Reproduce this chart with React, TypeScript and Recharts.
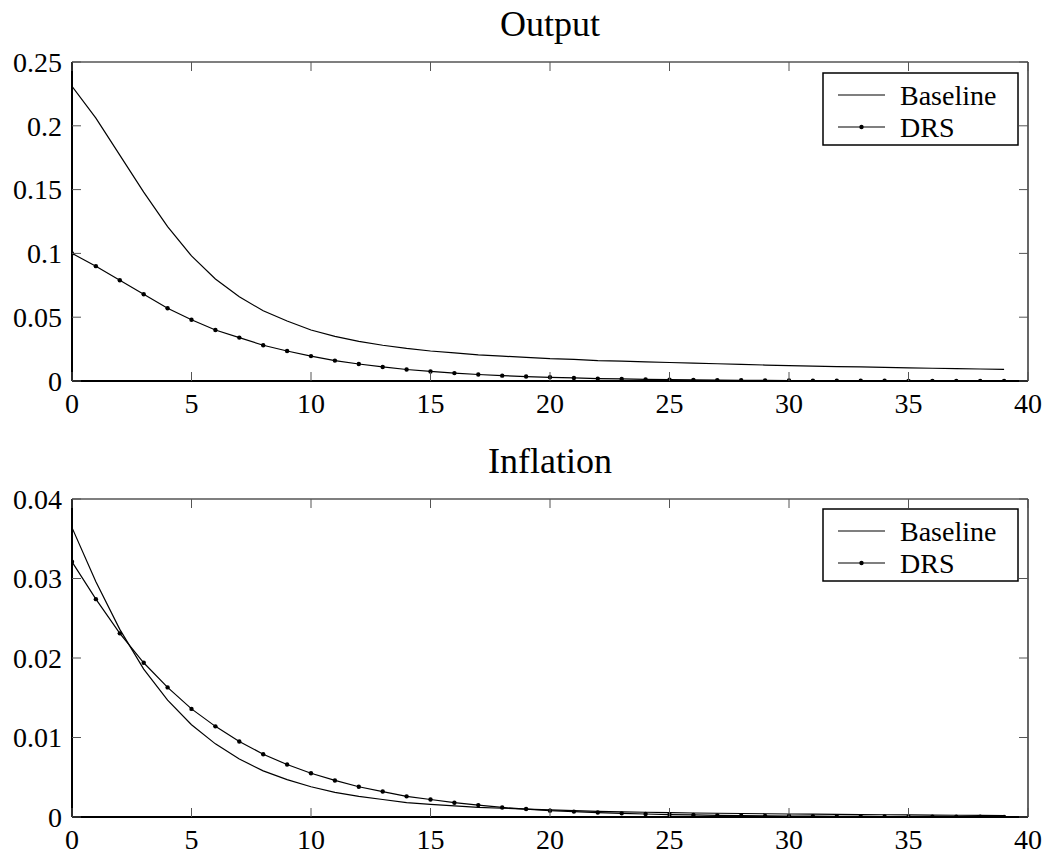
import React from 'react';
import { LineChart, Line, XAxis, YAxis, ReferenceLine } from 'recharts';

const periods = [0, 1, 2, 3, 4, 5, 6, 7, 8, 9, 10, 11, 12, 13, 14, 15, 16, 17, 18, 19, 20, 21, 22, 23, 24, 25, 26, 27, 28, 29, 30, 31, 32, 33, 34, 35, 36, 37, 38, 39];

const outputBaseline = [0.231, 0.206, 0.177, 0.148, 0.121, 0.098, 0.080, 0.066, 0.055, 0.047, 0.040, 0.035, 0.031, 0.028, 0.0255, 0.0235, 0.022, 0.0205, 0.0195, 0.0185, 0.0175, 0.017, 0.016, 0.0155, 0.015, 0.0145, 0.014, 0.0135, 0.013, 0.0125, 0.012, 0.0117, 0.0113, 0.011, 0.0106, 0.0103, 0.010, 0.0097, 0.0094, 0.0091];
const outputDrs = [0.100, 0.090, 0.079, 0.068, 0.057, 0.048, 0.040, 0.034, 0.028, 0.0235, 0.0195, 0.016, 0.0133, 0.011, 0.009, 0.0075, 0.0062, 0.0051, 0.0042, 0.0035, 0.0029, 0.0024, 0.0019, 0.0016, 0.0013, 0.0011, 0.0009, 0.0007, 0.0006, 0.0005, 0.0004, 0.0003, 0.00025, 0.0002, 0.00015, 0.0001, 0.0001, 0.00008, 0.00006, 0.00005];

const inflationBaseline = [0.0364, 0.0296, 0.0236, 0.0186, 0.0147, 0.0116, 0.0092, 0.0073, 0.0058, 0.0047, 0.0038, 0.0031, 0.0026, 0.0022, 0.0018, 0.0016, 0.0014, 0.0012, 0.0011, 0.001, 0.0009, 0.0008, 0.0007, 0.00065, 0.0006, 0.00055, 0.0005, 0.00047, 0.00044, 0.00041, 0.00038, 0.00035, 0.00033, 0.0003, 0.00028, 0.00026, 0.00024, 0.00022, 0.0002, 0.00019];
const inflationDrs = [0.0321, 0.0274, 0.0231, 0.0194, 0.0163, 0.0136, 0.0114, 0.0095, 0.0079, 0.0066, 0.0055, 0.0046, 0.0038, 0.0032, 0.0026, 0.0022, 0.0018, 0.0015, 0.0012, 0.001, 0.0008, 0.00068, 0.00056, 0.00046, 0.00038, 0.00031, 0.00026, 0.00021, 0.00017, 0.00014, 0.00012, 0.0001, 0.00008, 0.00007, 0.00006, 0.00005, 0.00004, 0.00003, 0.00003, 0.00002];

const xTicks = [0, 5, 10, 15, 20, 25, 30, 35, 40];
const outputTicks = [0, 0.05, 0.1, 0.15, 0.2, 0.25];
const inflationTicks = [0, 0.01, 0.02, 0.03, 0.04];
const seriesNames = ['Baseline', 'DRS'];
const titles = ['Output', 'Inflation'];

const FONT = "'Liberation Serif', 'Times New Roman', serif";
const TICK_LEN = 9;
const PLOT_LEFT = 72;
const PLOT_RIGHT = 1028;

const buildRows = (a: number[], b: number[]) =>
  periods.map((t, i) => ({ t, baseline: a[i], drs: b[i] }));

type PanelProps = {
  rows: { t: number; baseline: number; drs: number }[];
  yTicks: number[];
  yMax: number;
  height: number;
  margin: { top: number; right: number; bottom: number; left: number };
};

function Panel({ rows, yTicks, yMax, height, margin }: PanelProps) {
  const plotTop = margin.top;
  const XTick = (props: any) => {
    const { x, y, payload } = props;
    return (
      <g>
        <line x1={x} x2={x} y1={y} y2={y - TICK_LEN} stroke="#555" strokeWidth={1} />
        <line x1={x} x2={x} y1={plotTop} y2={plotTop + TICK_LEN} stroke="#555" strokeWidth={1} />
        <text x={x} y={y + 32} textAnchor="middle" fontSize={28} fontFamily={FONT} fill="#000">
          {String(payload.value)}
        </text>
      </g>
    );
  };
  const YTick = (props: any) => {
    const { x, y, payload } = props;
    return (
      <g>
        <line x1={x} x2={x + TICK_LEN} y1={y} y2={y} stroke="#555" strokeWidth={1} />
        <line x1={PLOT_RIGHT} x2={PLOT_RIGHT - TICK_LEN} y1={y} y2={y} stroke="#555" strokeWidth={1} />
        <text x={x - 10} y={y} dy="0.35em" textAnchor="end" fontSize={28} fontFamily={FONT} fill="#000">
          {String(payload.value)}
        </text>
      </g>
    );
  };
  return (
    <LineChart width={1048} height={height} data={rows} margin={margin}>
      <ReferenceLine y={yMax} stroke="#000" strokeWidth={1.2} ifOverflow="visible" />
      <ReferenceLine x={40} stroke="#000" strokeWidth={1.2} ifOverflow="visible" />
      <XAxis
        dataKey="t"
        type="number"
        domain={[0, 40]}
        ticks={xTicks}
        interval={0}
        allowDataOverflow
        height={40}
        axisLine={{ stroke: '#000', strokeWidth: 2 }}
        tickLine={false}
        tickSize={0}
        tickMargin={0}
        tick={<XTick />}
      />
      <YAxis
        type="number"
        domain={[0, yMax]}
        ticks={yTicks}
        interval={0}
        allowDataOverflow
        width={60}
        axisLine={{ stroke: '#000', strokeWidth: 2 }}
        tickLine={false}
        tickSize={0}
        tickMargin={0}
        tick={<YTick />}
      />
      <Line
        dataKey="baseline"
        name={seriesNames[0]}
        type="linear"
        stroke="#000"
        strokeWidth={1.2}
        dot={false}
        isAnimationActive={false}
      />
      <Line
        dataKey="drs"
        name={seriesNames[1]}
        type="linear"
        stroke="#000"
        strokeWidth={1.2}
        dot={{ r: 2.2, fill: '#000', stroke: '#000', strokeWidth: 0 }}
        isAnimationActive={false}
      />
    </LineChart>
  );
}

function LegendBox({ top }: { top: number }) {
  return (
    <svg
      width={197}
      height={74}
      style={{ position: 'absolute', left: 822, top: top - 1 }}
    >
      <rect x={1} y={1} width={195} height={72} fill="#fff" stroke="#000" strokeWidth={1.5} />
      <line x1={16} x2={63} y1={23} y2={23} stroke="#000" strokeWidth={1.2} />
      <line x1={16} x2={63} y1={55} y2={55} stroke="#000" strokeWidth={1.2} />
      <circle cx={39.5} cy={55} r={2.2} fill="#000" />
      <text x={78} y={23} dy="0.35em" fontSize={28} fontFamily={FONT} fill="#000">
        {seriesNames[0]}
      </text>
      <text x={78} y={55} dy="0.35em" fontSize={28} fontFamily={FONT} fill="#000">
        {seriesNames[1]}
      </text>
    </svg>
  );
}

export default function App() {
  const outputRows = buildRows(outputBaseline, outputDrs);
  const inflationRows = buildRows(inflationBaseline, inflationDrs);
  return (
    <div
      style={{
        position: 'absolute',
        left: 0,
        top: 0,
        width: 1048,
        height: 859,
        background: '#fff',
        overflow: 'hidden',
      }}
    >
      <div style={{ position: 'absolute', left: 0, top: 0 }}>
        <Panel
          rows={outputRows}
          yTicks={outputTicks}
          yMax={0.25}
          height={440}
          margin={{ top: 62, right: 20, bottom: 19, left: 12 }}
        />
      </div>
      <div style={{ position: 'absolute', left: 0, top: 440 }}>
        <Panel
          rows={inflationRows}
          yTicks={inflationTicks}
          yMax={0.04}
          height={419}
          margin={{ top: 59, right: 20, bottom: 2, left: 12 }}
        />
      </div>
      <svg width={1048} height={859} style={{ position: 'absolute', left: 0, top: 0, pointerEvents: 'none' }}>
        <text x={550} y={36} textAnchor="middle" fontSize={36} fontFamily={FONT} fill="#000">
          {titles[0]}
        </text>
        <text x={550} y={473} textAnchor="middle" fontSize={36} fontFamily={FONT} fill="#000">
          {titles[1]}
        </text>
      </svg>
      <LegendBox top={73} />
      <LegendBox top={509} />
    </div>
  );
}
